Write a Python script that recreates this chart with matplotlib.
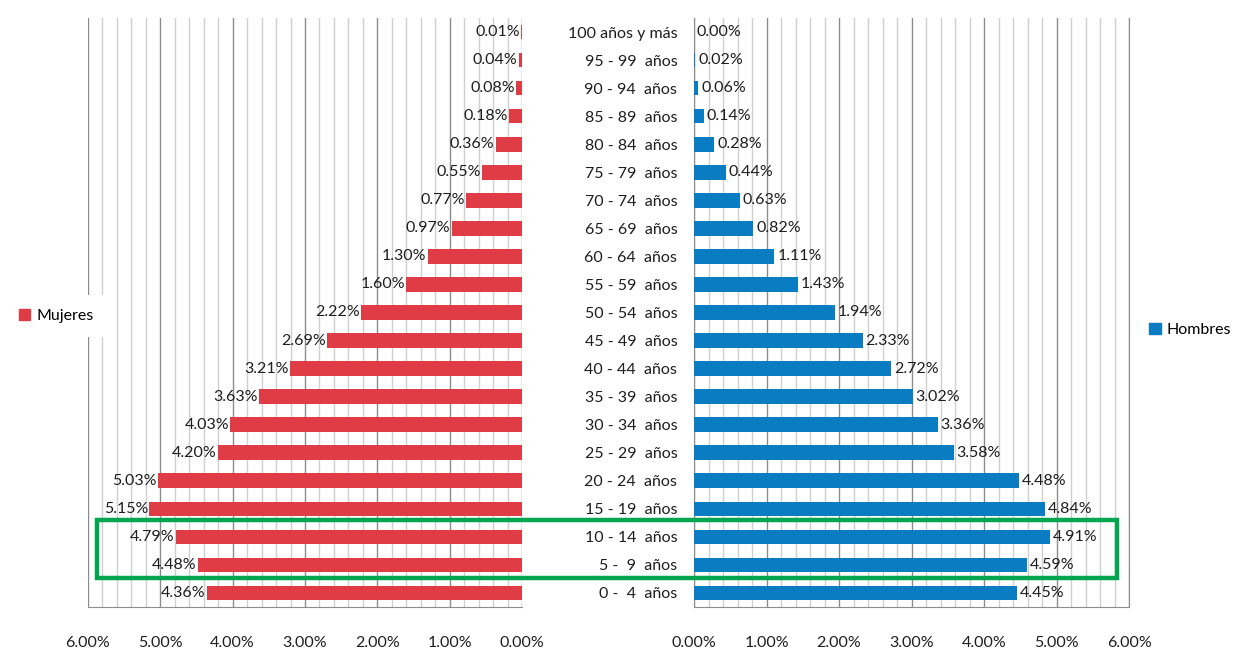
import matplotlib.pyplot as plt
import numpy as np
from matplotlib.patches import Rectangle, Patch
from matplotlib.ticker import MultipleLocator, FuncFormatter

plt.rcParams['font.family'] = ['Lato', 'DejaVu Sans']

age_groups = ["0 -  4  años", "5 -  9  años", "10 - 14  años", "15 - 19  años", "20 - 24  años",
              "25 - 29  años", "30 - 34  años", "35 - 39  años", "40 - 44  años", "45 - 49  años",
              "50 - 54  años", "55 - 59  años", "60 - 64  años", "65 - 69  años", "70 - 74  años",
              "75 - 79  años", "80 - 84  años", "85 - 89  años", "90 - 94  años", "95 - 99  años",
              "100 años y más"]
mujeres = [4.36, 4.48, 4.79, 5.15, 5.03, 4.20, 4.03, 3.63, 3.21, 2.69, 2.22,
           1.60, 1.30, 0.97, 0.77, 0.55, 0.36, 0.18, 0.08, 0.04, 0.01]
hombres = [4.45, 4.59, 4.91, 4.84, 4.48, 3.58, 3.36, 3.02, 2.72, 2.33, 1.94,
           1.43, 1.11, 0.82, 0.63, 0.44, 0.28, 0.14, 0.06, 0.02, 0.00]

red = "#E03C45"
blue = "#0A7CC2"
txt = "#1e1e1e"
fs = 11.5
W, H = 1234, 655

fig = plt.figure(figsize=(W / 100, H / 100), dpi=100)
ax_l = fig.add_axes([88 / W, 1 - 607 / H, (522 - 88) / W, (607 - 18) / H])
ax_r = fig.add_axes([694 / W, 1 - 607 / H, (1129 - 694) / W, (607 - 18) / H])

y = np.arange(len(age_groups))
pct = FuncFormatter(lambda v, p: "%.2f%%" % v)

for ax, vals, col in [(ax_l, mujeres, red), (ax_r, hombres, blue)]:
    ax.barh(y, vals, height=0.52, color=col, zorder=3)
    ax.set_xlim(0, 6)
    ax.set_ylim(-0.5, 20.5)
    ax.xaxis.set_major_locator(MultipleLocator(1))
    ax.xaxis.set_minor_locator(MultipleLocator(0.2))
    ax.xaxis.set_major_formatter(pct)
    ax.grid(which='major', axis='x', color='#8c8c8c', linewidth=1.0, zorder=0)
    ax.grid(which='minor', axis='x', color='#cfcfcf', linewidth=1.0, zorder=0)
    ax.tick_params(axis='x', which='both', length=0, pad=21, labelsize=fs, labelcolor=txt)
    for s in ['top', 'left', 'right']:
        ax.spines[s].set_visible(False)
    ax.spines['bottom'].set_color('#8c8c8c')

ax_l.invert_xaxis()
ax_l.set_yticks([])
ax_r.set_yticks(y)
ax_r.set_yticklabels(age_groups)
ax_r.tick_params(axis='y', length=0, pad=12, labelsize=fs, labelcolor=txt)
ax_r.spines['left'].set_visible(True)
ax_r.spines['left'].set_color('#8c8c8c')
ax_r.spines['right'].set_visible(True)
ax_r.spines['right'].set_color('#8c8c8c')

for i, v in enumerate(mujeres):
    ax_l.annotate("%.2f%%" % v, (v, i), xytext=(-1, 0), textcoords='offset points',
                  ha='right', va='center', fontsize=fs, color=txt, zorder=4)
for i, v in enumerate(hombres):
    ax_r.annotate("%.2f%%" % v, (v, i), xytext=(2, 0), textcoords='offset points',
                  ha='left', va='center', fontsize=fs, color=txt, zorder=4)

# legends
fig.legend(handles=[Patch(color=red, label='Mujeres')], loc='center left',
           bbox_to_anchor=(0.0, 1 - 316 / H), frameon=True, facecolor='white', edgecolor='none',
           framealpha=1, fontsize=fs, handlelength=0.7, handleheight=0.7, handletextpad=0.4,
           borderpad=0.9, borderaxespad=0.3)
fig.legend(handles=[Patch(color=blue, label='Hombres')], loc='center left',
           bbox_to_anchor=(1143 / W, 1 - 330 / H), frameon=False, fontsize=fs,
           handlelength=0.7, handleheight=0.7, handletextpad=0.4, borderaxespad=0.0)

# green highlight box around 5-9 and 10-14
fig.canvas.draw()
inv = fig.transFigure.inverted()
x0, y0 = inv.transform(ax_l.transData.transform((5.88, 0.52)))
x1, y1 = inv.transform(ax_r.transData.transform((5.84, 2.6)))
fig.patches.append(Rectangle((x0, y0), x1 - x0, y1 - y0, transform=fig.transFigure,
                             fill=False, edgecolor='#00A54F', linewidth=3.2, zorder=10))

fig.savefig("out.png", dpi=100)
